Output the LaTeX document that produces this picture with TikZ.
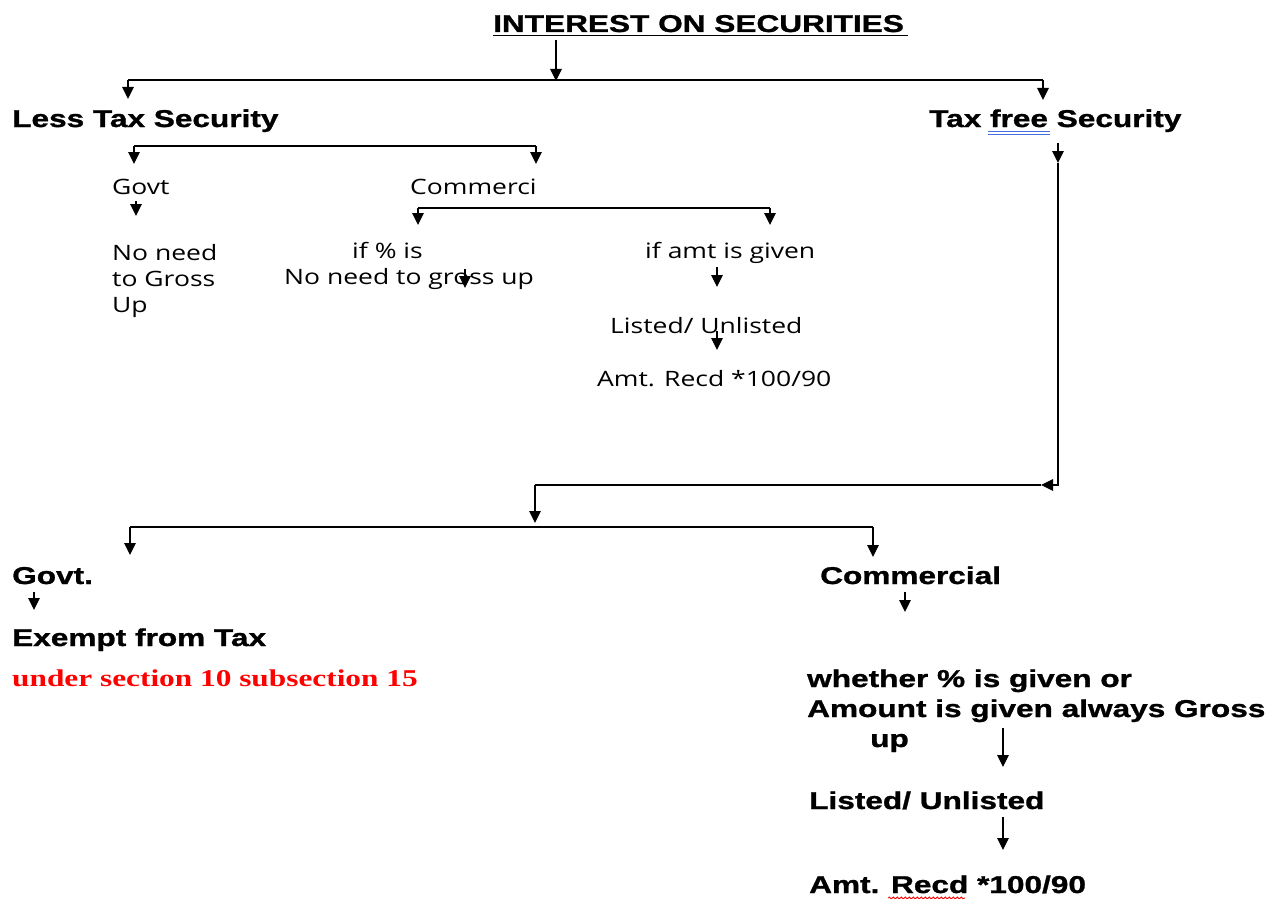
\documentclass[tikz,border=0pt]{standalone}
\usepackage{fontspec}
\usetikzlibrary{arrows.meta,decorations.pathmorphing}
\newfontfamily\bfA[FakeStretch=1.3,FakeBold=1.2]{Liberation Sans Bold}
\newfontfamily\rgA[FakeStretch=1.25]{Open Sans}
\newfontfamily\serA[FakeStretch=1.3]{Liberation Serif Bold}
\definecolor{spellblue}{RGB}{70,110,220}
\begin{document}
\begin{tikzpicture}[x=1pt,y=-1pt,
  bt/.style={anchor=base west,inner sep=0pt,font=\bfA\fontsize{24.3}{28}\selectfont},
  rt/.style={anchor=base west,inner sep=0pt,font=\rgA\fontsize{21.2}{26}\selectfont},
  st/.style={anchor=base west,inner sep=0pt,text=red,font=\serA\fontsize{24.1}{26}\selectfont},
  conn/.style={line width=1.5pt,black},
  arr/.style={conn,-{Triangle[width=11.5pt,length=12pt]}},
  thinarr/.style={line width=1.1pt,black,-{Triangle[width=11.5pt,length=12pt]}}]
\fill[white] (0,0) rectangle (1270,899);
\useasboundingbox (0,0) rectangle (1270,899);

% texts
\node[bt] (title) at (493,32) {INTEREST ON SECURITIES};
\draw[line width=1.8pt] (title.base west)++(0,3.5) -- ++(415,0);
\node[bt] (less) at (12,127) {Less Tax Security};
\node[bt] (free) at (929,127) {Tax free Security};
\draw[spellblue,line width=0.9pt] (988,131) -- (1050,131) (988,134) -- (1050,134);

\node[rt] (govt1) at (112,194) {Govt};
\node[rt] (comm1) at (410,194) {Commerci};
\node[rt] (nn1) at (112,260) {No need};
\node[rt] (nn2) at (112,286) {to Gross};
\node[rt] (nn3) at (112,312) {Up};
\node[rt] (pct) at (352,258) {if \% is};
\node[rt] (nogross) at (284,284) {No need to gross up};
\node[rt] (amtg) at (645,258) {if amt is given};
\node[rt] (lu1) at (610,333) {Listed/ Unlisted};
\node[rt] (ar1) at (597,386) {Amt. Recd *100/90};

\node[bt] (govt2) at (12,584) {Govt.};
\node[bt] (exempt) at (12,646) {Exempt from Tax};
\node[st] (sec) at (12,686) {under section 10 subsection 15};
\node[bt] (comm2) at (820,584) {Commercial};
\node[bt] (wh1) at (807,687) {whether \% is given or};
\node[bt] (wh2) at (807,717) {Amount is given always Gross};
\node[bt] (wh3) at (870,747) {up};
\node[bt] (lu2) at (809,809) {Listed/ Unlisted};
\node[bt] (ar2) at (809,893) {Amt. Recd *100/90};
\draw[red,line width=0.8pt,decorate,decoration={snake,amplitude=1pt,segment length=4pt}] (888,898) -- (965,898);

% junction coordinates
\coordinate (t0) at (556,40);
\coordinate (t1) at (556,80);
\coordinate (h1l) at (128,80);
\coordinate (h1r) at (1043,80);
\coordinate (h2l) at (134,146);
\coordinate (h2r) at (536,146);
\coordinate (h3l) at (418,208);
\coordinate (h3r) at (770,208);
\coordinate (v0) at (1058,143);
\coordinate (v1) at (1058,163);
\coordinate (v2) at (1058,485);
\coordinate (v3) at (1041,485);
\coordinate (v4) at (535,485);
\coordinate (h4l) at (130,527);
\coordinate (h4r) at (873,527);

% connectors
\draw[arr] (t0) -- ([yshift=-1]t1);
\draw[conn] (h1l) -- (h1r);
\draw[arr] (h1l) -- (128,99);
\draw[arr] (h1r) -- (1043,100);

\draw[conn] (h2l) -- (h2r);
\draw[arr] (h2l) -- (134,164);
\draw[arr] (h2r) -- (536,164);

\draw[arr] (136,201) -- (136,216);

\draw[conn] (h3l) -- (h3r);
\draw[arr] (h3l) -- (418,225);
\draw[arr] (h3r) -- (770,225);

\draw[arr] (465,269) -- (465,288);
\draw[arr] (717,267) -- (717,287);
\draw[arr] (717,331) -- (717,350);

\draw[arr] (v0) -- (v1);
\draw[arr] (v1) -- (v2) -- (v3);
\draw[conn] (v3) -- (v4);
\draw[arr] (v4) -- (535,523);
\draw[conn] (h4l) -- (h4r);
\draw[arr] (h4l) -- (130,555);
\draw[arr] (h4r) -- (873,557);

\draw[arr] (34,592) -- (34,610);
\draw[arr] (905,592) -- (905,612);
\draw[thinarr] (1003,728) -- (1003,767);
\draw[thinarr] (1003,817) -- (1003,850);
\end{tikzpicture}
\end{document}
